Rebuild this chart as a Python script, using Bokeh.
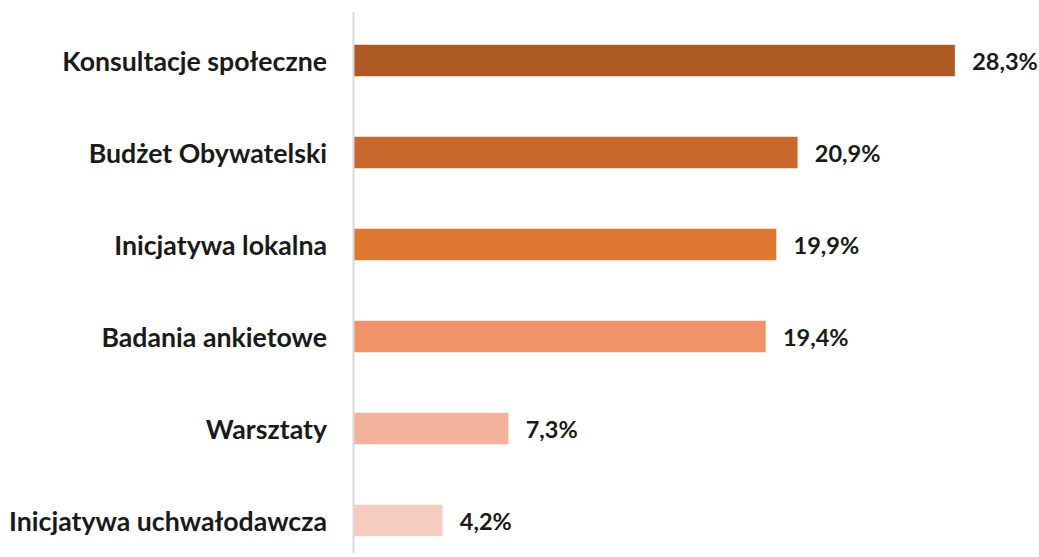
from bokeh.plotting import figure
from bokeh.models import ColumnDataSource, Range1d
from bokeh.core.properties import value
from bokeh.embed import file_html
from bokeh.resources import INLINE

categories = ["Konsultacje społeczne", "Budżet Obywatelski", "Inicjatywa lokalna",
              "Badania ankietowe", "Warsztaty", "Inicjatywa uchwałodawcza"]
values = [28.3, 20.9, 19.9, 19.4, 7.3, 4.2]
value_labels = ["28,3%", "20,9%", "19,9%", "19,4%", "7,3%", "4,2%"]
colors = ["#AD5A24", "#C9682C", "#E17832", "#F0936B", "#F3B29C", "#F6CCBF"]

W, H = 1039, 553
px_per_unit = 21.26
x0_px = 353
x_start = -x0_px / px_per_unit
x_end = (W - x0_px) / px_per_unit
row_px = 92.0
top_px = 60
y_top = -top_px / row_px
y_bottom = (H - top_px) / row_px

idx = list(range(len(categories)))
src = ColumnDataSource(dict(
    y=idx, v=values, cat=categories, lab=value_labels, color=colors,
    lab_x=[v + 17 / px_per_unit for v in values],
    cat_x=[-26.5 / px_per_unit] * len(values),
))

p = figure(width=W, height=H, output_backend="svg", toolbar_location=None,
           x_range=Range1d(x_start, x_end), y_range=Range1d(y_bottom, y_top),
           min_border=0, min_border_left=0, min_border_right=0,
           min_border_top=0, min_border_bottom=0)
p.xaxis.visible = False
p.yaxis.visible = False
p.grid.visible = False
p.outline_line_color = None
p.background_fill_color = "white"
p.border_fill_color = "white"

p.hbar(y="y", left=0, right="v", height=32 / row_px, fill_color="color",
       line_color="white", line_alpha=0.5, line_width=1, source=src)

p.segment(x0=[0], x1=[0], y0=[y_top + 12 / row_px], y1=[y_bottom],
          line_color="#D9D9D9", line_width=2)

p.text(x="cat_x", y="y", text="cat", source=src, text_align="right",
       text_baseline="middle", text_font=value("Lato"), text_font_style="bold",
       text_font_size="26.7px", text_color="#1A1A1A")
p.text(x="lab_x", y="y", text="lab", source=src, text_align="left",
       text_baseline="middle", text_font=value("Lato"), text_font_style="bold",
       text_font_size="23.5px", text_color="#1A1A1A")

open("out.html", "w").write(file_html(p, INLINE))
